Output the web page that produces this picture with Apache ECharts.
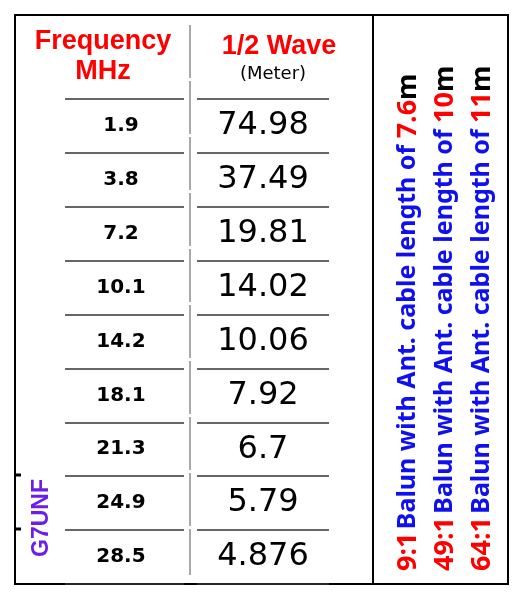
<!DOCTYPE html>
<html><head><meta charset="utf-8">
<script src="https://cdn.jsdelivr.net/npm/echarts@6/dist/echarts.min.js"></script>
<style>html,body{margin:0;padding:0;background:#fff}#c{width:530px;height:600px}</style>
</head><body><div id="c"></div>
<script>
const rows = ['r1', 'r2', 'r3', 'r4', 'r5', 'r6', 'r7', 'r8', 'r9'];
const frequencies = ['1.9', '3.8', '7.2', '10.1', '14.2', '18.1', '21.3', '24.9', '28.5'];
const halfWaves = ['74.98', '37.49', '19.81', '14.02', '10.06', '7.92', '6.70', '5.79', '4.876'];
const baluns = [
    ['9:1', '7.6'],
    ['49:1', '10'],
    ['64:1', '11']
];

const chart = echarts.init(document.getElementById('c'), null, { renderer: 'canvas' });

function colAxis(i) {
    return {
        type: 'category', gridIndex: i, data: rows, inverse: true,
        axisLine: { show: false }, axisTick: { show: false }, axisLabel: { show: false },
        splitLine: { show: true, lineStyle: { color: '#333', width: 1.5 } }
    };
}

// text cell placed through the axes
function textCell(font) {
    return function (params, api) {
        const pt = api.coord([api.value(0), api.value(1)]);
        return {
            type: 'text', x: pt[0], y: pt[1],
            style: Object.assign({ text: api.value(2), fill: '#000', align: 'center', verticalAlign: 'middle' }, font)
        };
    };
}

const balunText = baluns.map((b, i) => ({
    type: 'text',
    x: 408 + i * 37, y: 571, rotation: Math.PI / 2,
    style: {
        text: '{r|' + b[0] + '} {b|Balun with Ant. cable length of }{r|' + b[1] + '}{k|m}',
        rich: {
            r: { fill: '#ff0000', fontSize: 27, fontWeight: 'bold', fontFamily: 'Noto Sans' },
            b: { fill: '#1010ee', fontSize: 25, fontWeight: 'bold', fontFamily: 'Noto Sans' },
            k: { fill: '#000', fontSize: 27, fontWeight: 'bold', fontFamily: 'Noto Sans' }
        },
        verticalAlign: 'middle'
    }
}));

const option = {
    animation: false,
    grid: [
        { left: 65, width: 119, top: 99, height: 485 },
        { left: 197, width: 132, top: 99, height: 485 }
    ],
    xAxis: [
        { type: 'value', gridIndex: 0, min: 0, max: 1, show: false },
        { type: 'value', gridIndex: 1, min: 0, max: 1, show: false }
    ],
    yAxis: [colAxis(0), colAxis(1)],
    series: [
        {
            type: 'custom', xAxisIndex: 0, yAxisIndex: 0,
            data: frequencies.map((f, i) => [0.47, i, f]),
            encode: { x: 0, y: 1 },
            renderItem: textCell({ fontFamily: 'DejaVu Sans', fontWeight: 'bold', fontSize: 20 })
        },
        {
            type: 'custom', xAxisIndex: 1, yAxisIndex: 1,
            data: halfWaves.map((w, i) => [0.5, i, w]),
            encode: { x: 0, y: 1 },
            renderItem: textCell({ fontFamily: 'DejaVu Sans', fontSize: 32 })
        }
    ],
    graphic: [
        { type: 'rect', shape: { x: 15, y: 15, width: 358, height: 569 }, style: { fill: 'none', stroke: '#000', lineWidth: 2 } },
        { type: 'rect', shape: { x: 373, y: 15, width: 135, height: 569 }, style: { fill: 'none', stroke: '#000', lineWidth: 2 } },
        { type: 'line', shape: { x1: 190, y1: 25, x2: 190, y2: 575 }, style: { stroke: '#555', lineWidth: 1, lineDash: [53, 3] } },
        { type: 'line', shape: { x1: 15, y1: 475, x2: 21, y2: 475 }, style: { stroke: '#000', lineWidth: 3 } },
        { type: 'line', shape: { x1: 15, y1: 529, x2: 21, y2: 529 }, style: { stroke: '#000', lineWidth: 3 } },
        { type: 'text', x: 103, y: 42, style: { text: 'Frequency', fill: '#ff0000', fontSize: 27, fontWeight: 'bold', fontFamily: 'Liberation Sans', align: 'center', verticalAlign: 'middle' } },
        { type: 'text', x: 103, y: 72, style: { text: 'MHz', fill: '#ff0000', fontSize: 27, fontWeight: 'bold', fontFamily: 'Liberation Sans', align: 'center', verticalAlign: 'middle' } },
        { type: 'text', x: 279, y: 47, style: { text: '1/2 Wave', fill: '#ff0000', fontSize: 27, fontWeight: 'bold', fontFamily: 'Liberation Sans', align: 'center', verticalAlign: 'middle' } },
        { type: 'text', x: 273, y: 74, style: { text: '(Meter)', fill: '#000', fontSize: 18, fontFamily: 'DejaVu Sans', align: 'center', verticalAlign: 'middle' } },
        { type: 'text', x: 42, y: 518, rotation: Math.PI / 2, style: { text: 'G7UNF', fill: '#6a1ee6', fontSize: 23, fontWeight: 'bold', fontFamily: 'Liberation Sans', align: 'center', verticalAlign: 'middle' } }
    ].concat(balunText)
};

chart.setOption(option);
window.addEventListener('resize', chart.resize);
</script>
</body></html>
